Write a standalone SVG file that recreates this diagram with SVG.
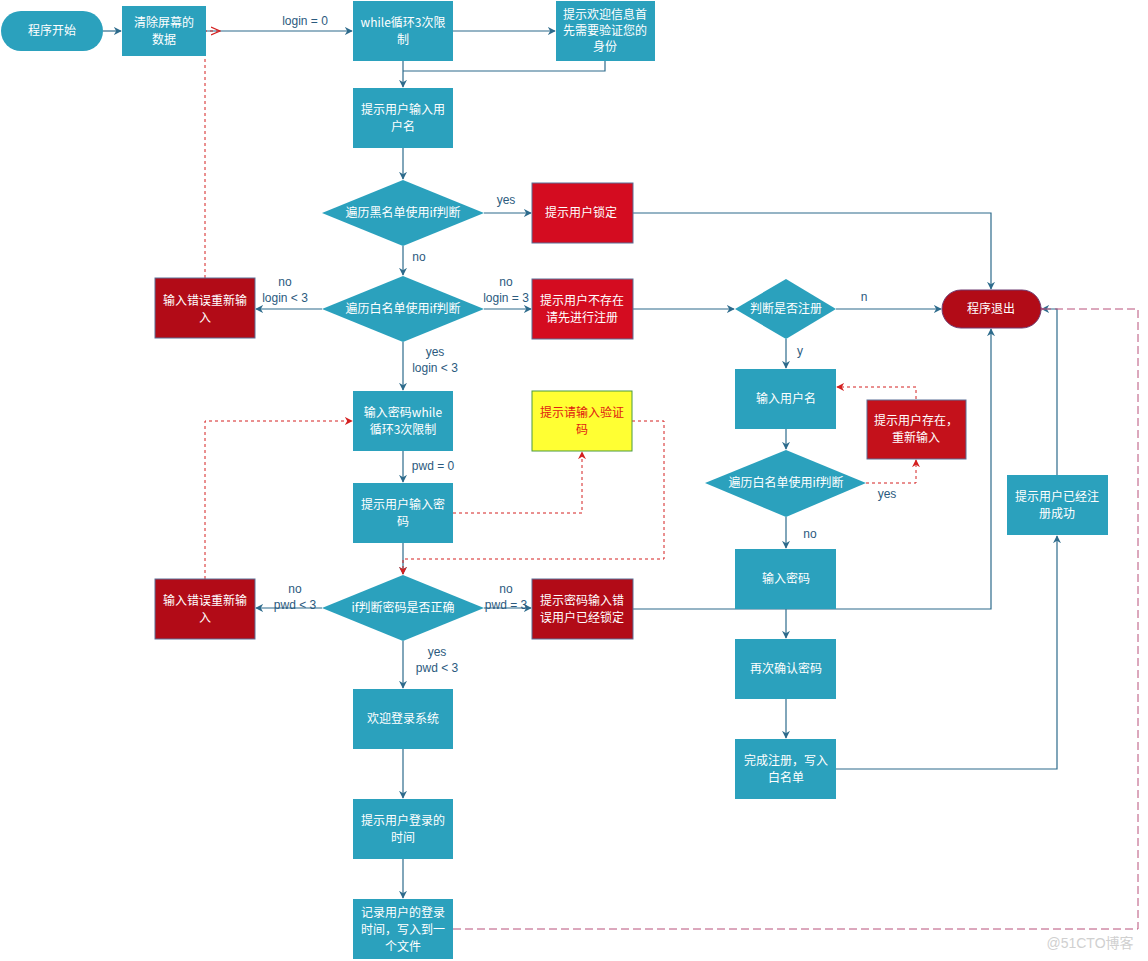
<svg xmlns="http://www.w3.org/2000/svg" width="1148" height="961" viewBox="0 0 1148 961">
<defs>
<style>
.box{fill:#2ba1bd;}
.red{fill:#d40c20;stroke:#5a6f96;stroke-width:1;}
.dred{fill:#b20b17;stroke:#5a6f96;stroke-width:1;}
.t{font-family:"Noto Sans CJK SC","Liberation Sans",sans-serif;font-size:12px;fill:#ffffff;text-anchor:middle;}
.lbl{font-family:"Liberation Sans","Noto Sans CJK SC",sans-serif;font-size:12px;fill:#2b5a7e;text-anchor:middle;}
.c{fill:none;stroke:#2d6b8c;stroke-width:1.2;}
.rd{fill:none;stroke:#d42020;stroke-width:1;stroke-dasharray:3 3;}
.pd{fill:none;stroke:#b8507a;stroke-width:1;stroke-dasharray:8 4;}
</style>
<marker id="a" viewBox="0 0 10 10" refX="9" refY="5" markerWidth="8" markerHeight="8" orient="auto" markerUnits="userSpaceOnUse">
<path d="M0,0 L10,5 L0,10 L3,5 Z" fill="#2d6b8c"/>
</marker>
<marker id="ar" viewBox="0 0 10 10" refX="9" refY="5" markerWidth="8" markerHeight="8" orient="auto" markerUnits="userSpaceOnUse">
<path d="M0,0 L10,5 L0,10 L3,5 Z" fill="#d42020"/>
</marker>
<marker id="ao" viewBox="0 0 10 10" refX="9" refY="5" markerWidth="10" markerHeight="10" orient="auto" markerUnits="userSpaceOnUse">
<path d="M0,1 L9,5 L0,9" fill="none" stroke="#d42020" stroke-width="1.2"/>
</marker>
<marker id="ap" viewBox="0 0 10 10" refX="1" refY="5" markerWidth="10" markerHeight="10" orient="auto" markerUnits="userSpaceOnUse">
<path d="M9,1 L1,5 L9,9" fill="none" stroke="#b8507a" stroke-width="1.2"/>
</marker>
</defs>
<rect width="1148" height="961" fill="#ffffff"/>

<g id="connectors">
<path class="c" d="M103,31 H121" marker-end="url(#a)"/>
<path class="c" d="M206,31 H352" marker-end="url(#a)"/>
<path class="c" d="M453,31 H555" marker-end="url(#a)"/>
<path class="c" d="M605,61 V71 H403"/>
<path class="c" d="M403,61 V87" marker-end="url(#a)"/>
<path class="c" d="M403,148 V179" marker-end="url(#a)"/>
<path class="c" d="M484,213 H531" marker-end="url(#a)"/>
<path class="c" d="M633,213 H991 V289" marker-end="url(#a)"/>
<path class="c" d="M403,246 V275" marker-end="url(#a)"/>
<path class="c" d="M322,309 H256" marker-end="url(#a)"/>
<path class="c" d="M484,309 H531" marker-end="url(#a)"/>
<path class="c" d="M633,309 H734" marker-end="url(#a)"/>
<path class="c" d="M836,309 H941" marker-end="url(#a)"/>
<path class="c" d="M786,339 V368" marker-end="url(#a)"/>
<path class="c" d="M786,429 V449" marker-end="url(#a)"/>
<path class="c" d="M786,517 V548" marker-end="url(#a)"/>
<path class="c" d="M633,609 H991 V329" marker-end="url(#a)"/>
<path class="c" d="M786,609 V638" marker-end="url(#a)"/>
<path class="c" d="M786,699 V738" marker-end="url(#a)"/>
<path class="c" d="M836,769 H1057 V536" marker-end="url(#a)"/>
<path class="c" d="M1057,475 V309 H1042" marker-end="url(#a)"/>
<path class="c" d="M403,342 V390" marker-end="url(#a)"/>
<path class="c" d="M403,451 V482" marker-end="url(#a)"/>
<path class="c" d="M403,543 V574" marker-end="url(#a)"/>
<path class="c" d="M322,608 H256" marker-end="url(#a)"/>
<path class="c" d="M484,608 H531" marker-end="url(#a)"/>
<path class="c" d="M403,641 V688" marker-end="url(#a)"/>
<path class="c" d="M403,749 V798" marker-end="url(#a)"/>
<path class="c" d="M403,859 V898" marker-end="url(#a)"/>
<path class="rd" d="M205,278 V31 H220" marker-end="url(#ao)"/>
<path class="rd" d="M205,579 V421 H352" marker-end="url(#ar)"/>
<path class="rd" d="M453,513 H582 V452" marker-end="url(#ar)"/>
<path class="rd" d="M632,421 H664 V559 H403 V574" marker-end="url(#ar)"/>
<path class="rd" d="M916,399 V387 H837" marker-end="url(#ar)"/>
<path class="rd" d="M866,483 H916 V460" marker-end="url(#ar)"/>
<path class="pd" d="M453,929 H1138 V309 H1043" marker-end="url(#ap)"/>
<text class="lbl" x="305" y="25">login = 0</text>
<text class="lbl" x="506" y="204">yes</text>
<text class="lbl" x="419" y="261">no</text>
<text class="lbl" x="285" y="286">no</text>
<text class="lbl" x="285" y="302">login &lt; 3</text>
<text class="lbl" x="506" y="286">no</text>
<text class="lbl" x="506" y="302">login = 3</text>
<text class="lbl" x="864" y="301">n</text>
<text class="lbl" x="800" y="355">y</text>
<text class="lbl" x="435" y="356">yes</text>
<text class="lbl" x="435" y="372">login &lt; 3</text>
<text class="lbl" x="433" y="470">pwd = 0</text>
<text class="lbl" x="887" y="498">yes</text>
<text class="lbl" x="810" y="538">no</text>
<text class="lbl" x="295" y="593">no</text>
<text class="lbl" x="295" y="609">pwd &lt; 3</text>
<text class="lbl" x="506" y="593">no</text>
<text class="lbl" x="506" y="609">pwd = 3</text>
<text class="lbl" x="437" y="656">yes</text>
<text class="lbl" x="437" y="672">pwd &lt; 3</text>
</g>

<g id="start"><rect class="box" x="1" y="11" width="102" height="40" rx="20"/><text class="t" x="52" y="35">程序开始</text></g>
<g id="clear"><rect class="box" x="122" y="6" width="84" height="50"/><text class="t" x="164" y="27">清除屏幕的</text><text class="t" x="164" y="44">数据</text></g>
<g id="while1"><rect class="box" x="353" y="1" width="100" height="60"/><text class="t" x="403" y="27">while循环3次限</text><text class="t" x="403" y="44">制</text></g>
<g id="welcome"><rect class="box" x="556" y="1" width="99" height="60"/><text class="t" x="605" y="19">提示欢迎信息首</text><text class="t" x="605" y="35">先需要验证您的</text><text class="t" x="605" y="51">身份</text></g>
<g id="inputuser"><rect class="box" x="353" y="88" width="100" height="60"/><text class="t" x="403" y="114">提示用户输入用</text><text class="t" x="403" y="131">户名</text></g>
<g id="black"><polygon class="box" points="403,180 484,213 403,246 322,213"/><text class="t" x="403" y="217">遍历黑名单使用if判断</text></g>
<g id="locked"><rect class="red" x="532" y="183" width="101" height="60"/><text class="t" x="581" y="217">提示用户锁定</text></g>
<g id="white"><polygon class="box" points="403,276 484,309 403,342 322,309"/><text class="t" x="403" y="313">遍历白名单使用if判断</text></g>
<g id="err1"><rect class="dred" x="155" y="278" width="100" height="60"/><text class="t" x="205" y="305">输入错误重新输</text><text class="t" x="205" y="322">入</text></g>
<g id="notexist"><rect class="red" x="532" y="279" width="101" height="60"/><text class="t" x="582" y="305">提示用户不存在</text><text class="t" x="582" y="322">请先进行注册</text></g>
<g id="register"><polygon class="box" points="786,279 836,309 786,339 735,309"/><text class="t" x="786" y="313">判断是否注册</text></g>
<g id="exit"><rect x="942" y="290" width="99" height="38" rx="19" fill="#b20b17" stroke="#6e3a70" stroke-width="1"/><text class="t" x="991" y="313">程序退出</text></g>
<g id="regname"><rect class="box" x="735" y="369" width="101" height="60"/><text class="t" x="786" y="403">输入用户名</text></g>
<g id="exists"><rect x="867" y="400" width="99" height="59" fill="#c4111b" stroke="#5a6f96" stroke-width="1"/><text class="t" x="916" y="425">提示用户存在，</text><text class="t" x="916" y="442">重新输入</text></g>
<g id="white2"><polygon class="box" points="786,450 866,483 786,517 705,483"/><text class="t" x="786" y="487">遍历白名单使用if判断</text></g>
<g id="regpwd"><rect class="box" x="735" y="549" width="101" height="60"/><text class="t" x="786" y="583">输入密码</text></g>
<g id="confirm"><rect class="box" x="735" y="639" width="101" height="60"/><text class="t" x="786" y="673">再次确认密码</text></g>
<g id="done"><rect class="box" x="735" y="739" width="101" height="60"/><text class="t" x="786" y="765">完成注册，写入</text><text class="t" x="786" y="782">白名单</text></g>
<g id="regok"><rect class="box" x="1007" y="475" width="101" height="60"/><text class="t" x="1057" y="501">提示用户已经注</text><text class="t" x="1057" y="518">册成功</text></g>
<g id="pwdwhile"><rect class="box" x="353" y="391" width="100" height="60"/><text class="t" x="403" y="417">输入密码while</text><text class="t" x="403" y="434">循环3次限制</text></g>
<g id="captcha"><rect x="532" y="391" width="100" height="60" fill="#ffff33" stroke="#4a9a40" stroke-width="1"/><text class="t" x="582" y="417" style="fill:#e02010">提示请输入验证</text><text class="t" x="582" y="434" style="fill:#e02010">码</text></g>
<g id="inputpwd"><rect class="box" x="353" y="483" width="100" height="60"/><text class="t" x="403" y="509">提示用户输入密</text><text class="t" x="403" y="526">码</text></g>
<g id="checkpwd"><polygon class="box" points="403,575 484,608 403,641 322,608"/><text class="t" x="403" y="612">if判断密码是否正确</text></g>
<g id="err2"><rect class="dred" x="155" y="579" width="100" height="60"/><text class="t" x="205" y="605">输入错误重新输</text><text class="t" x="205" y="622">入</text></g>
<g id="pwdlocked"><rect class="dred" x="532" y="579" width="101" height="60"/><text class="t" x="582" y="605">提示密码输入错</text><text class="t" x="582" y="622">误用户已经锁定</text></g>
<g id="welcomesys"><rect class="box" x="353" y="689" width="100" height="60"/><text class="t" x="403" y="723">欢迎登录系统</text></g>
<g id="logintime"><rect class="box" x="353" y="799" width="100" height="60"/><text class="t" x="403" y="825">提示用户登录的</text><text class="t" x="403" y="842">时间</text></g>
<g id="record"><rect class="box" x="353" y="899" width="100" height="60"/><text class="t" x="403" y="917">记录用户的登录</text><text class="t" x="403" y="934">时间，写入到一</text><text class="t" x="403" y="951">个文件</text></g>
<text x="1090" y="948" font-family="Liberation Sans,Noto Sans CJK SC,sans-serif" font-size="14" fill="#d0d0d0" text-anchor="middle">@51CTO博客</text>
</svg>
